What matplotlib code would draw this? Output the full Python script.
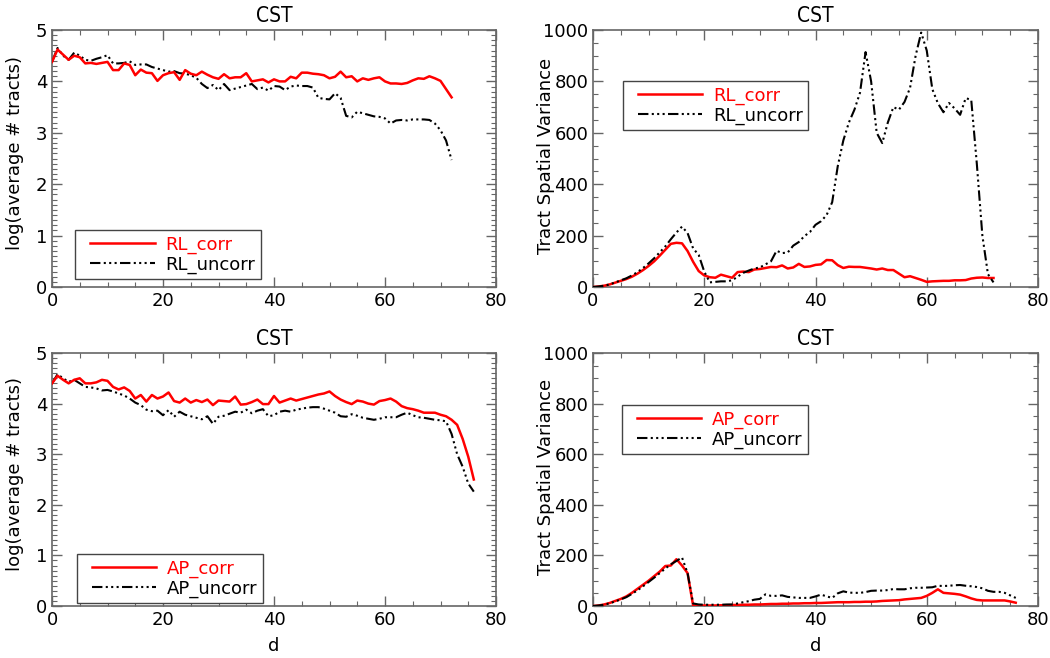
import matplotlib
matplotlib.use("Agg")
import matplotlib.pyplot as plt
import numpy as np
from matplotlib.ticker import MultipleLocator
from matplotlib.lines import Line2D
from matplotlib.legend_handler import HandlerLine2D

# ---------------- data ----------------
rl_corr_log = [4.38, 4.62, 4.52, 4.42, 4.50, 4.47, 4.35, 4.36, 4.34, 4.36, 4.38, 4.22, 4.22, 4.35, 4.32,
               4.12, 4.23, 4.17, 4.16, 4.01, 4.12, 4.16, 4.18, 4.03, 4.22, 4.15, 4.12, 4.19, 4.13, 4.08,
               4.05, 4.14, 4.06, 4.08, 4.08, 4.16, 4.00, 4.02, 4.04, 3.98, 4.04, 4.00, 4.00, 4.09, 4.06,
               4.17, 4.17, 4.15, 4.14, 4.12, 4.06, 4.09, 4.19, 4.08, 4.10, 4.00, 4.06, 4.03, 4.06, 4.08,
               4.00, 3.96, 3.96, 3.95, 3.97, 4.02, 4.06, 4.05, 4.10, 4.06, 4.01, 3.85, 3.69]
rl_uncorr_log = [4.38, 4.65, 4.50, 4.42, 4.56, 4.50, 4.42, 4.40, 4.44, 4.47, 4.51, 4.35, 4.35, 4.36, 4.39,
                 4.32, 4.33, 4.33, 4.28, 4.25, 4.22, 4.19, 4.20, 4.16, 4.15, 4.12, 4.07, 3.95, 3.87, 3.93,
                 3.83, 3.95, 3.83, 3.86, 3.89, 3.92, 3.95, 3.85, 3.88, 3.82, 3.91, 3.90, 3.83, 3.90, 3.92,
                 3.91, 3.91, 3.88, 3.68, 3.66, 3.65, 3.77, 3.68, 3.33, 3.30, 3.41, 3.38, 3.35, 3.32, 3.31,
                 3.28, 3.18, 3.24, 3.25, 3.24, 3.26, 3.26, 3.26, 3.25, 3.18, 3.05, 2.85, 2.47]
rl_corr_var = [0, 2, 5, 10, 17, 24, 31, 40, 52, 66, 82, 100, 122, 145, 168, 172, 170, 140, 98, 62,
               45, 38, 36, 48, 42, 36, 58, 60, 58, 68, 70, 74, 78, 77, 84, 72, 76, 90, 78, 80,
               86, 88, 105, 104, 85, 74, 79, 78, 78, 75, 72, 68, 72, 66, 66, 52, 38, 42, 35, 28,
               20, 22, 23, 24, 24, 26, 26, 27, 33, 36, 37, 35, 35]
rl_uncorr_var = [0, 2, 5, 10, 18, 26, 34, 45, 58, 74, 92, 112, 135, 158, 186, 212, 235, 210, 150, 125,
                 60, 18, 20, 22, 22, 26, 40, 55, 64, 72, 76, 88, 100, 141, 132, 134, 161, 175, 198, 214,
                 242, 256, 280, 330, 470, 570, 640, 690, 756, 914, 800, 600, 560, 640, 700, 690, 720, 775,
                 900, 990, 920, 770, 715, 680, 716, 695, 670, 735, 728, 480, 200, 50, 18]
ap_corr_log = [4.40, 4.55, 4.47, 4.40, 4.47, 4.50, 4.40, 4.40, 4.42, 4.47, 4.45, 4.33, 4.28, 4.32, 4.25,
               4.10, 4.17, 4.04, 4.17, 4.10, 4.14, 4.22, 4.05, 4.02, 4.10, 4.02, 4.07, 4.03, 4.08, 3.97,
               4.06, 4.05, 4.04, 4.14, 3.98, 3.99, 4.03, 4.08, 3.99, 3.99, 4.15, 4.02, 4.06, 4.10, 4.06,
               4.09, 4.12, 4.15, 4.18, 4.20, 4.24, 4.15, 4.08, 4.03, 3.99, 4.06, 4.04, 4.00, 3.98, 4.05,
               4.07, 4.10, 4.04, 3.95, 3.91, 3.89, 3.86, 3.82, 3.82, 3.82, 3.78, 3.75, 3.68, 3.58, 3.30,
               2.95, 2.50]
ap_uncorr_log = [4.40, 4.58, 4.50, 4.43, 4.47, 4.40, 4.33, 4.32, 4.30, 4.26, 4.27, 4.24, 4.20, 4.16, 4.10,
                 4.02, 3.97, 3.88, 3.85, 3.86, 3.77, 3.87, 3.74, 3.84, 3.78, 3.75, 3.72, 3.69, 3.75, 3.60,
                 3.74, 3.76, 3.80, 3.84, 3.82, 3.88, 3.81, 3.86, 3.89, 3.75, 3.77, 3.84, 3.86, 3.84, 3.88,
                 3.90, 3.92, 3.93, 3.93, 3.90, 3.86, 3.82, 3.75, 3.74, 3.79, 3.76, 3.72, 3.70, 3.68, 3.70,
                 3.73, 3.73, 3.73, 3.78, 3.82, 3.77, 3.73, 3.72, 3.70, 3.68, 3.67, 3.65, 3.40, 3.00, 2.75,
                 2.42, 2.26]
ap_corr_var = [0, 2, 6, 12, 20, 28, 38, 52, 68, 84, 100, 118, 136, 158, 160, 185, 160, 130, 2, 2,
               2, 2, 2, 3, 3, 4, 4, 5, 5, 6, 6, 7, 8, 8, 9, 9, 10, 10, 11, 11,
               12, 12, 13, 14, 15, 15, 15, 16, 16, 17, 17, 18, 20, 21, 22, 23, 26, 28, 30, 32,
               40, 52, 66, 52, 50, 48, 45, 38, 30, 24, 22, 22, 22, 22, 22, 18, 13]
ap_uncorr_var = [0, 2, 5, 11, 18, 26, 35, 48, 62, 78, 95, 112, 130, 148, 165, 178, 192, 130, 10, 6,
                 5, 5, 5, 5, 6, 6, 10, 15, 19, 25, 28, 46, 40, 40, 42, 36, 34, 32, 32, 32,
                 38, 45, 38, 32, 50, 58, 53, 52, 52, 55, 60, 61, 61, 63, 67, 66, 66, 70, 72, 72,
                 73, 74, 80, 79, 80, 82, 83, 80, 78, 75, 70, 60, 56, 56, 52, 42, 32]

title_text = "CST"
xlabel_text = "d"
ylabel_log = "log(average # tracts)"
ylabel_var = "Tract Spatial Variance"

# ---------------- figure ----------------
plt.rcParams['font.family'] = ['DejaVu Sans']
fig = plt.figure(figsize=(10.5, 6.58), dpi=100)

W, H = 1050, 658
def rect(x0, x1, y0, y1):
    return [x0 / W, 1 - y1 / H, (x1 - x0) / W, (y1 - y0) / H]

ax_tl = fig.add_axes(rect(52, 496, 30, 287))
ax_tr = fig.add_axes(rect(593, 1038, 30, 287))
ax_bl = fig.add_axes(rect(52, 496, 353, 606))
ax_br = fig.add_axes(rect(593, 1038, 353, 606))

dashdot3 = (0, (5, 1.6, 1, 1.6, 1, 1.6, 1, 1.6))
spine_col = '#666666'

def style(ax, log):
    ax.set_xlim(0, 80)
    ax.xaxis.set_major_locator(MultipleLocator(20))
    ax.xaxis.set_minor_locator(MultipleLocator(5))
    if log:
        ax.set_ylim(0, 5)
        ax.yaxis.set_major_locator(MultipleLocator(1))
        ax.yaxis.set_minor_locator(MultipleLocator(0.1))
    else:
        ax.set_ylim(0, 1000)
        ax.yaxis.set_major_locator(MultipleLocator(200))
        ax.yaxis.set_minor_locator(MultipleLocator(50))
    ax.tick_params(which='both', direction='in', top=True, right=True,
                   color=spine_col, labelsize=13)
    ax.tick_params(which='major', length=7, width=1)
    ax.tick_params(which='minor', length=3.5, width=0.8)
    for s in ax.spines.values():
        s.set_color(spine_col)
        s.set_linewidth(1.2)
    ax.set_title(title_text, fontsize=15, pad=6, fontstretch='condensed')

def draw(ax, corr, uncorr, names, log, loc, anchor):
    d1 = np.arange(len(corr))
    d2 = np.arange(len(uncorr))
    ax.plot(d1, corr, color='red', lw=1.8, label=names[0], zorder=3 if log else 2)
    ax.plot(d2, uncorr, color='black', lw=1.5, linestyle=dashdot3, label=names[1],
            zorder=2 if log else 3)
    if not log:
        ax.lines[0].set_zorder(3)
    style(ax, log)
    leg = ax.legend(loc=loc, bbox_to_anchor=anchor, borderaxespad=0, fontsize=13,
                    fancybox=False, framealpha=1, edgecolor='#444444', handlelength=4.1,
                    handletextpad=0.6, borderpad=0.3, labelspacing=0.08,
                    labelcolor='linecolor',
                    handler_map={Line2D: HandlerLine2D(xpad=0.55)})
    leg.get_frame().set_linewidth(1.0)

draw(ax_tl, rl_corr_log, rl_uncorr_log, ["RL_corr", "RL_uncorr"], True,
     'lower left', (0.052, 0.031))
draw(ax_tr, rl_corr_var, rl_uncorr_var, ["RL_corr", "RL_uncorr"], False,
     'upper left', (0.067, 0.80))
draw(ax_bl, ap_corr_log, ap_uncorr_log, ["AP_corr", "AP_uncorr"], True,
     'lower left', (0.056, 0.012))
draw(ax_br, ap_corr_var, ap_uncorr_var, ["AP_corr", "AP_uncorr"], False,
     'upper left', (0.065, 0.794))

for ax in (ax_tl, ax_bl):
    ax.set_ylabel(ylabel_log, fontsize=13)
    ax.yaxis.set_label_coords(-0.062, 0.52)
for ax in (ax_tr, ax_br):
    ax.set_ylabel(ylabel_var, fontsize=13)
    ax.yaxis.set_label_coords(-0.086, 0.51)
ax_bl.set_xlabel(xlabel_text, fontsize=13, labelpad=6)
ax_br.set_xlabel(xlabel_text, fontsize=13, labelpad=6)

fig.savefig("out.png", dpi=100)
